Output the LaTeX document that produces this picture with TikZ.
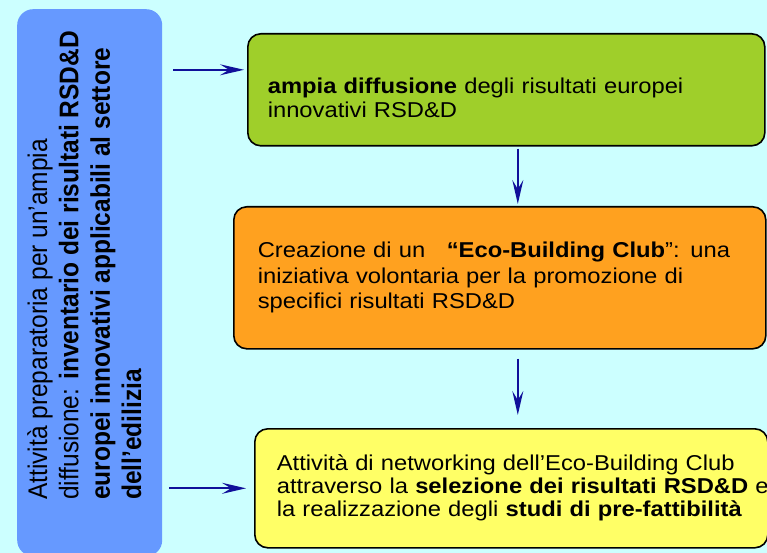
\documentclass[tikz,border=0pt]{standalone}
\usepackage{fontspec}
\setmainfont{Liberation Sans}
\newfontfamily\ecolarga[FakeStretch=1.105]{Liberation Sans}
\usetikzlibrary{arrows.meta}
\definecolor{ecosfondo}{HTML}{CCFFFF}
\definecolor{ecoblu}{HTML}{6699FF}
\definecolor{ecoverde}{HTML}{9FCF2A}
\definecolor{ecoarancio}{HTML}{FFA11F}
\definecolor{ecogiallo}{HTML}{FFFF66}
\definecolor{ecofreccia}{HTML}{10109A}

\begin{document}
\begin{tikzpicture}[x=1pt, y=-1pt,
		casella/.style={draw=black, line width=1.6pt, rounded corners=13pt, anchor=north west, inner ysep=0pt, align=left},
		freccia/.style={draw=ecofreccia, line width=1.8pt, -{Stealth[length=24pt, width=11pt, inset=9pt]}}]
		% sfondo
		\fill[ecosfondo] (0,0) rectangle (767,553);
		\useasboundingbox (0,0) rectangle (767,553);
		
		% colonna a sinistra
		\node[fill=ecoblu, rounded corners=16pt, anchor=north west, minimum width=145pt, minimum height=547pt, inner sep=0pt] (blu) at (17,9) {};
		\node[xscale=1.1, rotate=90, anchor=north west, align=left, inner sep=0pt, font=\fontsize{24.5}{28.5}\selectfont] (prep) at (27,500) {Attività preparatoria per un’ampia\\ diffusione: \textbf{inventario dei risultati RSD\&D}\\ \textbf{europei innovativi applicabili al settore}\\ \textbf{dell’edilizia}};
		
		% le tre caselle
		\node[casella, fill=ecoverde, font=\ecolarga\fontsize{21.5}{24}\selectfont, minimum width=517pt, minimum height=112pt, text width=477pt, inner xsep=20pt] (verde) at (247,33) {\rule{0pt}{31pt}\textbf{ampia diffusione} degli risultati europei\\ innovativi RSD\&D};
		\node[casella, fill=ecoarancio, font=\ecolarga\fontsize{21.5}{25.5}\selectfont, minimum width=532pt, minimum height=142pt, text width=484pt, inner xsep=24pt] (arancio) at (233,206) {Creazione di un\ \ \ \textbf{“Eco-Building Club}”: una\\ iniziativa volontaria per la promozione di\\ specifici risultati RSD\&D};
		\node[casella, fill=ecogiallo, font=\ecolarga\fontsize{21.5}{23}\selectfont, minimum width=513pt, minimum height=119pt, text width=469pt, inner xsep=22pt] (giallo) at (254,428) {Attività di networking dell’Eco-Building Club\\ \mbox{attraverso la \textbf{selezione dei risultati RSD\&D} e}\\ la realizzazione degli \textbf{studi di pre-fattibilità}};
		
		% frecce
		\draw[freccia, shorten <=11pt, shorten >=3pt] ([yshift=20pt]verde.west -| blu.east) -- ([yshift=20pt]verde.west);
		\draw[freccia, shorten <=7pt, shorten >=8pt] (giallo.west -| blu.east) -- (giallo.west);
		\draw[freccia, shorten <=2pt, shorten >=2pt] ([xshift=11.5pt]verde.south) -- ([xshift=11.5pt]verde.south |- arancio.north);
		\draw[freccia, shorten <=9pt, shorten >=13pt] ([xshift=18pt]arancio.south) -- ([xshift=18pt]arancio.south |- giallo.north);
	\end{tikzpicture}
\end{document}
